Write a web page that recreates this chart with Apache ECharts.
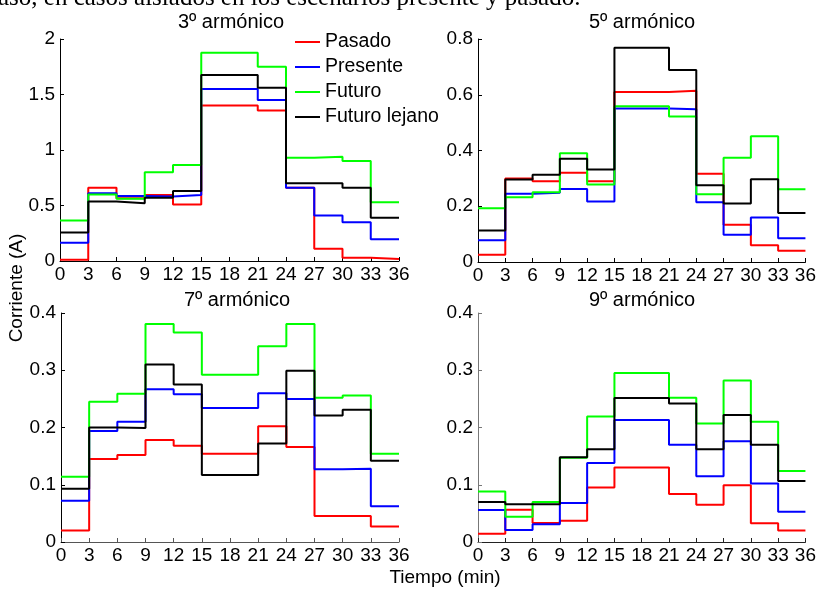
<!DOCTYPE html>
<html>
<head>
<meta charset="utf-8">
<script src="https://cdn.jsdelivr.net/npm/echarts@6/dist/echarts.min.js"></script>
<style>
html,body{margin:0;padding:0;background:#fff;}
#chart{width:819px;height:590px;}
</style>
</head>
<body>
<div id="chart"></div>
<script>
// Time bins (minutes)
const timeTicks = [0, 3, 6, 9, 12, 15, 18, 21, 24, 27, 30, 33, 36];
const seriesNames = ['Pasado', 'Presente', 'Futuro', 'Futuro lejano'];
const seriesColors = ['#ff0000', '#0000ff', '#00ff00', '#000000'];
const titles = ['3º armónico', '5º armónico', '7º armónico', '9º armónico'];

// 3º armónico (one value per 3-min interval)
const h3_pasado  = [0.012, 0.66, 0.565, 0.595, 0.51, 1.40, 1.40, 1.355, 0.66, 0.11, 0.03, 0.018];
const h3_presente= [0.165, 0.61, 0.585, 0.58, 0.595, 1.55, 1.55, 1.45, 0.66, 0.41, 0.35, 0.195];
const h3_futuro  = [0.364, 0.60, 0.56, 0.80, 0.865, 1.877, 1.877, 1.75, 0.93, 0.94, 0.90, 0.53];
const h3_lejano  = [0.256, 0.535, 0.52, 0.57, 0.63, 1.675, 1.675, 1.56, 0.70, 0.70, 0.66, 0.39];

// 5º armónico
const h5_pasado  = [0.026, 0.30, 0.29, 0.32, 0.29, 0.61, 0.61, 0.614, 0.317, 0.134, 0.06, 0.04];
const h5_presente= [0.078, 0.245, 0.248, 0.262, 0.217, 0.551, 0.551, 0.548, 0.214, 0.098, 0.16, 0.085];
const h5_futuro  = [0.193, 0.232, 0.25, 0.39, 0.278, 0.559, 0.559, 0.522, 0.243, 0.374, 0.451, 0.261];
const h5_lejano  = [0.113, 0.296, 0.313, 0.37, 0.332, 0.769, 0.769, 0.689, 0.275, 0.21, 0.297, 0.176];

// 7º armónico
const h7_pasado  = [0.020, 0.145, 0.152, 0.178, 0.168, 0.154, 0.154, 0.202, 0.166, 0.0455, 0.0455, 0.027];
const h7_presente= [0.072, 0.194, 0.21, 0.267, 0.258, 0.234, 0.234, 0.26, 0.25, 0.127, 0.128, 0.0625];
const h7_futuro  = [0.114, 0.245, 0.259, 0.381, 0.366, 0.292, 0.292, 0.342, 0.381, 0.252, 0.256, 0.154];
const h7_lejano  = [0.093, 0.20, 0.199, 0.31, 0.275, 0.117, 0.117, 0.172, 0.299, 0.221, 0.231, 0.142];

// 9º armónico
const h9_pasado  = [0.0146, 0.0565, 0.033, 0.037, 0.095, 0.130, 0.130, 0.084, 0.065, 0.099, 0.0326, 0.02];
const h9_presente= [0.056, 0.021, 0.031, 0.068, 0.138, 0.213, 0.213, 0.170, 0.115, 0.176, 0.102, 0.053];
const h9_futuro  = [0.088, 0.044, 0.07, 0.147, 0.219, 0.295, 0.295, 0.252, 0.207, 0.282, 0.21, 0.124];
const h9_lejano  = [0.07, 0.066, 0.066, 0.148, 0.162, 0.2515, 0.2515, 0.242, 0.162, 0.222, 0.170, 0.1066];

const yMax = [2, 0.8, 0.4, 0.4];
const yInterval = [0.5, 0.2, 0.1, 0.1];

const panels = [
  [h3_pasado, h3_presente, h3_futuro, h3_lejano],
  [h5_pasado, h5_presente, h5_futuro, h5_lejano],
  [h7_pasado, h7_presente, h7_futuro, h7_lejano],
  [h9_pasado, h9_presente, h9_futuro, h9_lejano]
];

const FONT = 'Liberation Sans';
const grids = [
  {left: 60, top: 39, width: 339, height: 222},
  {left: 478, top: 39, width: 329, height: 223},
  {left: 61, top: 313, width: 338, height: 229},
  {left: 478, top: 313, width: 329, height: 229}
];
const titleCenters = [[231, 12], [642, 12], [237, 290], [642, 290]];
const xAxisColors = ['#000', '#000', '#555', '#222'];
const yAxisColors = ['#000', '#000', '#000', '#777'];

function stepData(vals) {
  const d = [];
  for (let i = 0; i < vals.length; i++) d.push([timeTicks[i], vals[i]]);
  d.push([timeTicks[vals.length], vals[vals.length - 1]]);
  return d;
}

const xAxes = [], yAxes = [], series = [], titleArr = [];
for (let g = 0; g < 4; g++) {
  xAxes.push({
    gridIndex: g, type: 'value', min: 0, max: 36, interval: 3,
    axisLine: {onZero: false, lineStyle: {color: xAxisColors[g], width: 1}},
    axisTick: {inside: true, length: 4, lineStyle: {color: xAxisColors[g]}},
    axisLabel: {color: '#000', fontSize: 19, fontFamily: FONT, margin: 4, showMaxLabel: true, showMinLabel: true},
    splitLine: {show: false}
  });
  yAxes.push({
    gridIndex: g, type: 'value', min: 0, max: yMax[g], interval: yInterval[g],
    axisLine: {show: true, onZero: false, lineStyle: {color: yAxisColors[g], width: 1}},
    axisTick: {show: true, inside: true, length: 4, lineStyle: {color: yAxisColors[g]}},
    axisLabel: {color: '#000', fontSize: 19, fontFamily: FONT, margin: 5},
    splitLine: {show: false}
  });
  titleArr.push({
    text: titles[g], left: titleCenters[g][0], top: titleCenters[g][1], textAlign: 'center', padding: 0,
    textStyle: {fontSize: 20, fontWeight: 'normal', color: '#000', fontFamily: FONT}
  });
  for (let s = 0; s < 4; s++) {
    series.push({
      name: seriesNames[s], type: 'line', step: 'end',
      xAxisIndex: g, yAxisIndex: g,
      data: stepData(panels[g][s]),
      symbol: 'none',
      lineStyle: {color: seriesColors[s], width: 2},
      itemStyle: {color: seriesColors[s]},
      z: 2 + s
    });
  }
}

const chart = echarts.init(document.getElementById('chart'), null, {renderer: 'canvas'});
chart.setOption({
  animation: false,
  backgroundColor: '#fff',
  title: titleArr,
  grid: grids,
  xAxis: xAxes,
  yAxis: yAxes,
  legend: {
    data: seriesNames, orient: 'vertical', left: 295, top: 32, padding: 0,
    itemWidth: 25, itemHeight: 2, itemGap: 5, icon: 'rect', selectedMode: false,
    textStyle: {fontSize: 19.5, lineHeight: 19, color: '#000', fontFamily: FONT}
  },
  graphic: [
    {type: 'text', x: -2, y: -2, silent: true,
     style: {text: 'aso, en casos aislados en los escenarios presente y pasado.', font: '25px "Liberation Serif"', fill: '#000', verticalAlign: 'middle', align: 'left'}},
    {type: 'text', x: 17, y: 288, rotation: Math.PI / 2, silent: true,
     style: {text: 'Corriente (A)', font: '19px "Liberation Sans"', fill: '#000', verticalAlign: 'middle', align: 'center'}},
    {type: 'text', x: 445, y: 578, silent: true,
     style: {text: 'Tiempo (min)', font: '19px "Liberation Sans"', fill: '#000', verticalAlign: 'middle', align: 'center'}}
  ],
  series: series
});
</script>
</body>
</html>
